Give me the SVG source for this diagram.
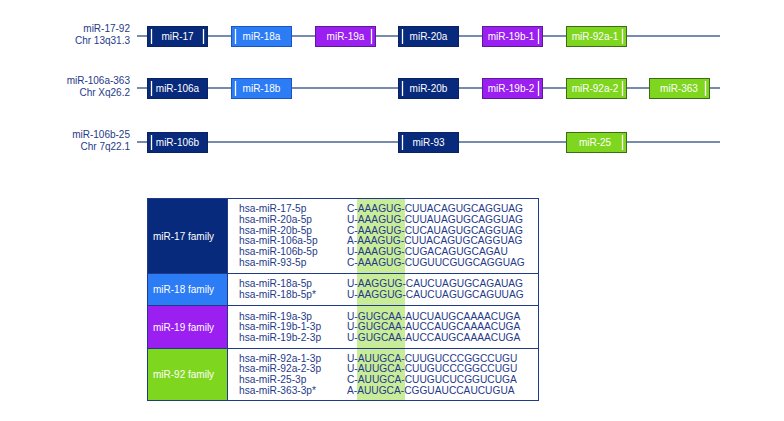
<svg xmlns="http://www.w3.org/2000/svg" width="784" height="421" viewBox="0 0 784 421">
<style>
.lbl{font-family:"Liberation Sans",Arial,sans-serif;font-size:10px;fill:#1f3a8a;text-anchor:end}
.bt{font-family:"Liberation Sans",Arial,sans-serif;font-size:10px;fill:#ffffff;text-anchor:middle}
.ft{font-family:"Liberation Sans",Arial,sans-serif;font-size:10px;fill:#ffffff}
.tt{font-family:"Liberation Sans",Arial,sans-serif;font-size:10.2px;fill:#1f3a8a}
.chr{stroke:#4a6590;stroke-width:1.3;fill:none}
.bar{stroke:#ffffff;stroke-width:1.3}
.navy{fill:#082a7c;stroke:#0a2260;stroke-width:1}
.blue{fill:#2b7cf5;stroke:#1a56c0;stroke-width:1}
.purple{fill:#9a1ff0;stroke:#5a1a9a;stroke-width:1}
.green{fill:#7fd61e;stroke:#3d6a1c;stroke-width:1}
.grid{stroke:#1f3a8a;stroke-width:1;fill:none}
</style>
<g id="connectors">
<line class="chr" x1="137" y1="36" x2="720" y2="36"/>
<line class="chr" x1="137" y1="88" x2="720" y2="88"/>
<line class="chr" x1="137" y1="142" x2="720" y2="142"/>
</g>
<g id="cluster-labels">
<text class="lbl" x="130" y="32">miR-17-92</text>
<text class="lbl" x="130" y="44">Chr 13q31.3</text>
<text class="lbl" x="130" y="84">miR-106a-363</text>
<text class="lbl" x="130" y="96">Chr Xq26.2</text>
<text class="lbl" x="130" y="138">miR-106b-25</text>
<text class="lbl" x="130" y="150">Chr 7q22.1</text>
</g>
<g id="miR-17"><rect class="navy" x="147.5" y="26.5" width="60" height="20"/><line class="bar" x1="151.5" y1="29" x2="151.5" y2="44"/><line class="bar" x1="203.5" y1="29" x2="203.5" y2="44"/><text class="bt" x="177.5" y="40">miR-17</text></g>
<g id="miR-18a"><rect class="blue" x="231.5" y="26.5" width="60" height="20"/><line class="bar" x1="235.5" y1="29" x2="235.5" y2="44"/><text class="bt" x="261.5" y="40">miR-18a</text></g>
<g id="miR-19a"><rect class="purple" x="315.5" y="26.5" width="60" height="20"/><line class="bar" x1="371.5" y1="29" x2="371.5" y2="44"/><text class="bt" x="345.5" y="40">miR-19a</text></g>
<g id="miR-20a"><rect class="navy" x="398.5" y="26.5" width="60" height="20"/><line class="bar" x1="402.5" y1="29" x2="402.5" y2="44"/><text class="bt" x="428.5" y="40">miR-20a</text></g>
<g id="miR-19b-1"><rect class="purple" x="482.5" y="26.5" width="60" height="20"/><line class="bar" x1="538.5" y1="29" x2="538.5" y2="44"/><text class="bt" x="511" y="40">miR-19b-1</text></g>
<g id="miR-92a-1"><rect class="green" x="566.5" y="26.5" width="60" height="20"/><line class="bar" x1="622.5" y1="29" x2="622.5" y2="44"/><text class="bt" x="595" y="40">miR-92a-1</text></g>

<g id="miR-106a"><rect class="navy" x="147.5" y="78.5" width="60" height="20"/><line class="bar" x1="151.5" y1="81" x2="151.5" y2="96"/><text class="bt" x="177.5" y="92">miR-106a</text></g>
<g id="miR-18b"><rect class="blue" x="231.5" y="78.5" width="60" height="20"/><line class="bar" x1="235.5" y1="81" x2="235.5" y2="96"/><text class="bt" x="261.5" y="92">miR-18b</text></g>
<g id="miR-20b"><rect class="navy" x="398.5" y="78.5" width="60" height="20"/><line class="bar" x1="402.5" y1="81" x2="402.5" y2="96"/><text class="bt" x="428.5" y="92">miR-20b</text></g>
<g id="miR-19b-2"><rect class="purple" x="482.5" y="78.5" width="60" height="20"/><line class="bar" x1="538.5" y1="81" x2="538.5" y2="96"/><text class="bt" x="511" y="92">miR-19b-2</text></g>
<g id="miR-92a-2"><rect class="green" x="566.5" y="78.5" width="60" height="20"/><line class="bar" x1="622.5" y1="81" x2="622.5" y2="96"/><text class="bt" x="595" y="92">miR-92a-2</text></g>
<g id="miR-363"><rect class="green" x="649.5" y="78.5" width="60" height="20"/><line class="bar" x1="705.5" y1="81" x2="705.5" y2="96"/><text class="bt" x="679" y="92">miR-363</text></g>

<g id="miR-106b"><rect class="navy" x="147.5" y="132.5" width="60" height="20"/><line class="bar" x1="151.5" y1="135" x2="151.5" y2="150"/><text class="bt" x="177.5" y="146">miR-106b</text></g>
<g id="miR-93"><rect class="navy" x="398.5" y="132.5" width="60" height="20"/><line class="bar" x1="402.5" y1="135" x2="402.5" y2="150"/><text class="bt" x="428.5" y="146">miR-93</text></g>
<g id="miR-25"><rect class="green" x="566.5" y="132.5" width="60" height="20"/><line class="bar" x1="622.5" y1="135" x2="622.5" y2="150"/><text class="bt" x="595" y="146">miR-25</text></g>

<g id="table">
<rect x="147.5" y="198.5" width="391" height="202" fill="#ffffff"/>
<rect x="357" y="198.5" width="48" height="202" fill="#c9ec98"/>
<rect x="147.5" y="198.5" width="80" height="75" fill="#082a7c"/>
<rect x="147.5" y="273.5" width="80" height="32" fill="#2b7cf5"/>
<rect x="147.5" y="305.5" width="80" height="43" fill="#9a1ff0"/>
<rect x="147.5" y="348.5" width="80" height="52" fill="#7fd61e"/>
<rect class="grid" x="147.5" y="198.5" width="391" height="202"/>
<line class="grid" x1="227.5" y1="198.5" x2="227.5" y2="400.5"/>
<line class="grid" x1="147.5" y1="273.5" x2="538.5" y2="273.5"/>
<line class="grid" x1="147.5" y1="305.5" x2="538.5" y2="305.5"/>
<line class="grid" x1="147.5" y1="348.5" x2="538.5" y2="348.5"/>
<text class="ft" x="153" y="239.5">miR-17 family</text>
<text class="ft" x="153" y="293">miR-18 family</text>
<text class="ft" x="153" y="330.5">miR-19 family</text>
<text class="ft" x="153" y="378">miR-92 family</text>
<text class="tt" x="239" y="212">hsa-miR-17-5p</text>
<text class="tt" x="239" y="222.8">hsa-miR-20a-5p</text>
<text class="tt" x="239" y="233.6">hsa-miR-20b-5p</text>
<text class="tt" x="239" y="244.4">hsa-miR-106a-5p</text>
<text class="tt" x="239" y="255.2">hsa-miR-106b-5p</text>
<text class="tt" x="239" y="266">hsa-miR-93-5p</text>
<text class="tt" x="239" y="287">hsa-miR-18a-5p</text>
<text class="tt" x="239" y="297.8">hsa-miR-18b-5p*</text>
<text class="tt" x="239" y="319.5">hsa-miR-19a-3p</text>
<text class="tt" x="239" y="330.3">hsa-miR-19b-1-3p</text>
<text class="tt" x="239" y="341.1">hsa-miR-19b-2-3p</text>
<text class="tt" x="239" y="361.5">hsa-miR-92a-1-3p</text>
<text class="tt" x="239" y="372.3">hsa-miR-92a-2-3p</text>
<text class="tt" x="239" y="383.1">hsa-miR-25-3p</text>
<text class="tt" x="239" y="393.9">hsa-miR-363-3p*</text>
<text class="tt" x="347" y="212">C-AAAGUG-CUUACAGUGCAGGUAG</text>
<text class="tt" x="347" y="222.8">U-AAAGUG-CUUAUAGUGCAGGUAG</text>
<text class="tt" x="347" y="233.6">C-AAAGUG-CUCAUAGUGCAGGUAG</text>
<text class="tt" x="347" y="244.4">A-AAAGUG-CUUACAGUGCAGGUAG</text>
<text class="tt" x="347" y="255.2">U-AAAGUG-CUGACAGUGCAGAU</text>
<text class="tt" x="347" y="266">C-AAAGUG-CUGUUCGUGCAGGUAG</text>
<text class="tt" x="347" y="287">U-AAGGUG-CAUCUAGUGCAGAUAG</text>
<text class="tt" x="347" y="297.8">U-AAGGUG-CAUCUAGUGCAGUUAG</text>
<text class="tt" x="347" y="319.5">U-GUGCAA-AUCUAUGCAAAACUGA</text>
<text class="tt" x="347" y="330.3">U-GUGCAA-AUCCAUGCAAAACUGA</text>
<text class="tt" x="347" y="341.1">U-GUGCAA-AUCCAUGCAAAACUGA</text>
<text class="tt" x="347" y="361.5">U-AUUGCA-CUUGUCCCGGCCUGU</text>
<text class="tt" x="347" y="372.3">U-AUUGCA-CUUGUCCCGGCCUGU</text>
<text class="tt" x="347" y="383.1">C-AUUGCA-CUUGUCUCGGUCUGA</text>
<text class="tt" x="347" y="393.9">A-AUUGCA-CGGUAUCCAUCUGUA</text>
</g>
</svg>
